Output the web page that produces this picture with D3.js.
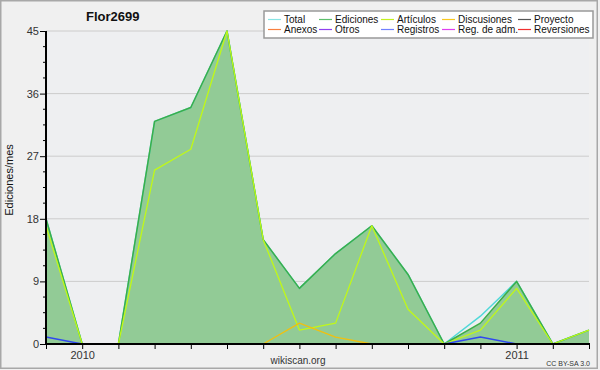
<!DOCTYPE html>
<html>
<head>
<meta charset="utf-8">
<script src="https://cdn.jsdelivr.net/npm/d3@7"></script>
<style>
  body { margin: 0; background: #f0f0f0; }
  text { font-family: "Liberation Sans", Arial, sans-serif; }
</style>
</head>
<body>
<div id="chart"></div>
<script>
// months shown on the x axis (Dec 2009 .. Mar 2011)
var months = ["2009-12", "2010-01", "2010-02", "2010-03", "2010-04", "2010-05", "2010-06", "2010-07",
              "2010-08", "2010-09", "2010-10", "2010-11", "2010-12", "2011-01", "2011-02", "2011-03"];

// series values
var total       = [18, 0, 0, 32, 34, 45, 15, 8, 13, 17, 10, 0, 4, 9, 0, 2];
var ediciones   = [18, 0, 0, 32, 34, 45, 15, 8, 13, 17, 10, 0, 3, 9, 0, 2];
var articulos   = [17, 0, 0, 25, 28, 45, 15, 2, 3, 17, 5, 0, 2, 8, 0, 2];
var discusiones = [0, 0, 0, 0, 0, 0, 0, 3, 1, 0, 0, 0, 0, 0, 0, 0];
var registros   = [1, 0, 0, 0, 0, 0, 0, 0, 0, 0, 0, 0, 1, 0, 0, 0];

var yTicks = [0, 9, 18, 27, 36, 45];

var legendNames  = ["Total", "Ediciones", "Artículos", "Discusiones", "Proyecto",
                    "Anexos", "Otros", "Registros", "Reg. de adm.", "Reversiones"];
var legendColors = ["#88e4e4", "#5cbf6c", "#c4f020", "#f8c820", "#555555",
                    "#f88040", "#9040f0", "#7080ff", "#e040f0", "#f03030"];

// set the dimensions
var W = 600, H = 370;
var margin = {top: 31, right: 11, bottom: 26, left: 46},
    width = 589 - margin.left,
    height = 344 - margin.top;

var svg = d3.select("#chart").append("svg")
    .attr("width", W)
    .attr("height", H);

// frame
svg.append("rect")
    .attr("x", 0.75).attr("y", 0.75)
    .attr("width", 596.5).attr("height", 367.5)
    .attr("fill", "#f0f0f0")
    .attr("stroke", "#a8a8a8")
    .attr("stroke-width", 1.5);

var g = svg.append("g")
    .attr("transform", "translate(" + margin.left + "," + margin.top + ")");

// set the ranges
var x = d3.scalePoint().domain(months).range([0, width]);
var y = d3.scaleLinear().domain([0, 45]).range([height, 0]);

// plot background
g.append("rect")
    .attr("width", width).attr("height", height)
    .attr("fill", "#eeeff1");

// grid lines
g.selectAll(".grid")
    .data(yTicks.slice(1))
    .enter().append("line")
    .attr("x1", 0).attr("x2", width)
    .attr("y1", function(d) { return y(d); })
    .attr("y2", function(d) { return y(d); })
    .attr("stroke", "#cccccc")
    .attr("stroke-width", 1);

function idx(d, i) { return x(months[i]); }

// Ediciones area
var area = d3.area()
    .x(idx)
    .y0(height)
    .y1(function(d) { return y(d); });

g.append("path")
    .datum(ediciones)
    .attr("fill", "#92cb96")
    .attr("d", area);

var line = d3.line()
    .x(idx)
    .y(function(d) { return y(d); });

function addLine(data, color, w) {
  g.append("path")
      .datum(data)
      .attr("fill", "none")
      .attr("stroke", color)
      .attr("stroke-width", w)
      .attr("stroke-linejoin", "round")
      .attr("d", line);
}

addLine(total, "#50d8d8", 1.5);
addLine(ediciones, "#3cae48", 1.5);
addLine(articulos, "#c0f818", 1.3);
addLine(discusiones, "#f0c010", 1.3);
addLine(registros, "#3048f0", 1.5);

// Y axis with minor ticks
var minor = d3.range(0, 45.01, 2.25).filter(function(v) { return v % 9 !== 0; });
g.selectAll(".minor")
    .data(minor)
    .enter().append("line")
    .attr("x1", -3).attr("x2", 0)
    .attr("y1", function(d) { return y(d); })
    .attr("y2", function(d) { return y(d); })
    .attr("stroke", "#000");

var yAxis = g.append("g")
    .call(d3.axisLeft(y).tickValues(yTicks).tickSize(6).tickPadding(1));
yAxis.select(".domain").attr("stroke-width", 2).attr("d", "M0,0V" + (height + 1));
yAxis.selectAll("text").attr("font-size", 11).attr("fill", "#333")
    .style("font-family", "'Liberation Sans', Arial, sans-serif");

// X axis
var xAxis = g.append("g")
    .attr("transform", "translate(0," + height + ")")
    .call(d3.axisBottom(x)
        .tickSize(5)
        .tickPadding(2)
        .tickFormat(function(m) { return m.slice(5) === "01" ? m.slice(0, 4) : ""; }));
xAxis.select(".domain").attr("stroke-width", 2).attr("d", "M-1,0H" + (width + 1));
xAxis.selectAll("text").attr("font-size", 11).attr("fill", "#333")
    .style("font-family", "'Liberation Sans', Arial, sans-serif");

// title
svg.append("text")
    .attr("x", 86).attr("y", 21)
    .attr("font-size", 13)
    .attr("font-weight", "bold")
    .attr("fill", "#111")
    .text("Flor2699");

// y axis label
svg.append("text")
    .attr("transform", "translate(13,180) rotate(-90)")
    .attr("text-anchor", "middle")
    .attr("font-size", 11)
    .attr("fill", "#111")
    .text("Ediciones/mes");

// footer texts
svg.append("text")
    .attr("x", 298).attr("y", 364)
    .attr("text-anchor", "middle")
    .attr("font-size", 10)
    .attr("fill", "#333")
    .text("wikiscan.org");

svg.append("text")
    .attr("x", 590).attr("y", 366)
    .attr("text-anchor", "end")
    .attr("font-size", 7)
    .attr("fill", "#333")
    .text("CC BY-SA 3.0");

// legend
var legend = svg.append("g").attr("transform", "translate(264,11)");
legend.append("rect")
    .attr("width", 329).attr("height", 27)
    .attr("fill", "#fff")
    .attr("stroke", "#999")
    .attr("stroke-width", 1.5);

var colX = [4, 55, 117, 178, 254];
legendNames.forEach(function(name, i) {
  var col = i % 5, row = Math.floor(i / 5);
  var lx = colX[col], ly = 8.5 + row * 10;
  legend.append("line")
      .attr("x1", lx).attr("x2", lx + 13)
      .attr("y1", ly).attr("y2", ly)
      .attr("stroke", legendColors[i])
      .attr("stroke-width", 1.2);
  legend.append("text")
      .attr("x", lx + 16).attr("y", ly + 3.5)
      .attr("font-size", 10)
      .attr("fill", "#111")
      .text(name);
});
</script>
</body>
</html>
